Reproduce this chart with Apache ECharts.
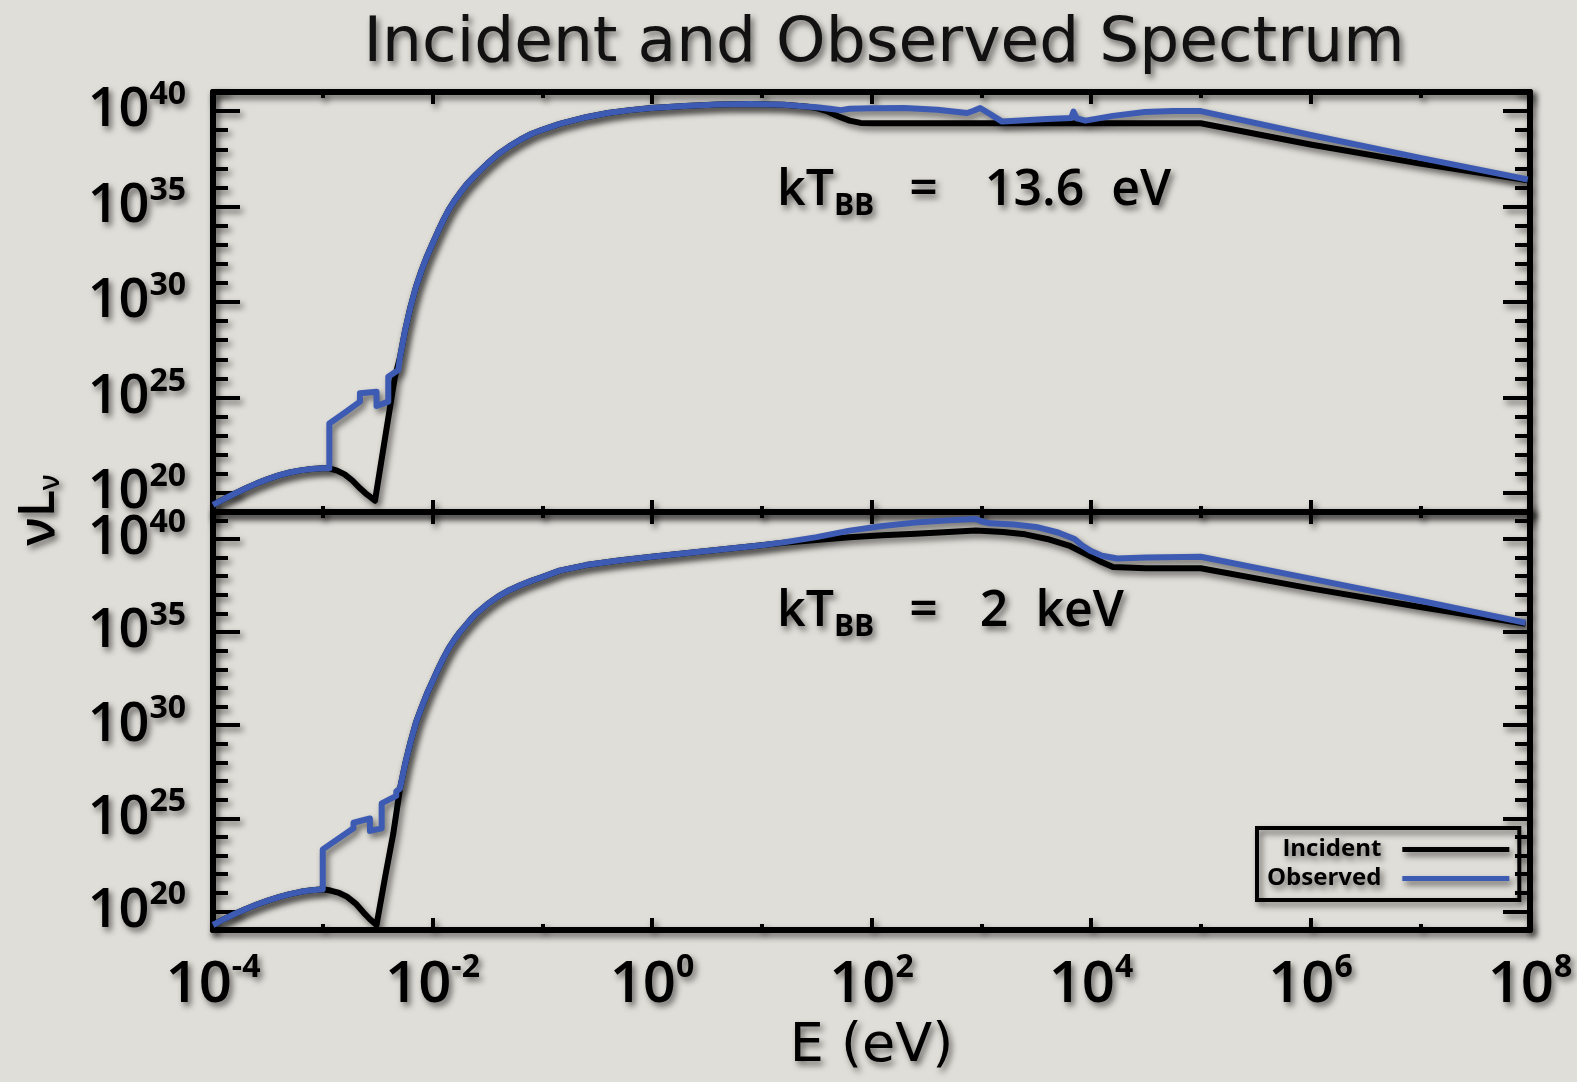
<!DOCTYPE html>
<html>
<head>
<meta charset="utf-8">
<script src="https://cdn.jsdelivr.net/npm/echarts@6/dist/echarts.min.js"></script>
<style>
  html, body { margin: 0; padding: 0; background: #e0ded8; }
  #chart { width: 1577px; height: 1082px; }
</style>
</head>
<body>
<div id="chart"></div>
<script>
// Spectra as [log10(E / eV), log10(nu L_nu)] pairs.

// kT_BB = 13.6 eV
const incident136 = [
  [-4.00,19.37],[-3.90,19.68],[-3.80,19.97],[-3.70,20.24],[-3.60,20.50],[-3.50,20.72],[-3.40,20.92],
  [-3.30,21.07],[-3.20,21.18],[-3.10,21.25],[-3.00,21.29],[-2.94,21.29],[-2.87,21.17],[-2.80,20.97],
  [-2.73,20.65],[-2.66,20.24],[-2.61,19.98],[-2.57,19.80],[-2.524,19.59],[-2.43,22.95],[-2.342,26.09],
  [-2.296,27.10],[-2.25,28.50],[-2.20,29.75],[-2.15,30.80],[-2.10,31.65],[-2.05,32.40],[-2.00,33.05],
  [-1.95,33.70],[-1.90,34.30],[-1.85,34.85],[-1.80,35.30],[-1.75,35.70],[-1.69,36.15],[-1.60,36.70],
  [-1.50,37.25],[-1.40,37.75],[-1.30,38.15],[-1.20,38.50],[-1.10,38.80],[-1.00,39.02],[-0.84,39.33],
  [-0.60,39.68],[-0.40,39.90],[-0.20,40.05],[0.00,40.16],[0.30,40.27],[0.60,40.34],[0.90,40.37],
  [1.20,40.33],[1.40,40.24],[1.50,40.16],[1.60,39.98],[1.70,39.72],[1.80,39.50],[1.90,39.38],
  [2.00,39.36],[3.00,39.36],[4.00,39.36],[5.00,39.36],[6.00,38.25],[7.00,37.25],[7.98,36.38]
];
const observed136 = [
  [-4.00,19.37],[-3.90,19.68],[-3.80,19.97],[-3.70,20.24],[-3.60,20.50],[-3.50,20.72],[-3.40,20.92],
  [-3.30,21.07],[-3.20,21.18],[-3.10,21.25],[-3.00,21.29],[-2.94,21.29],[-2.94,23.64],[-2.80,24.20],
  [-2.661,24.78],[-2.661,25.22],[-2.51,25.30],[-2.51,24.55],[-2.403,24.78],[-2.403,26.09],[-2.312,26.44],
  [-2.296,27.10],[-2.25,28.50],[-2.20,29.75],[-2.15,30.80],[-2.10,31.65],[-2.05,32.40],[-2.00,33.05],
  [-1.95,33.70],[-1.90,34.30],[-1.85,34.85],[-1.80,35.30],[-1.75,35.70],[-1.69,36.15],[-1.60,36.70],
  [-1.50,37.25],[-1.40,37.75],[-1.30,38.15],[-1.20,38.50],[-1.10,38.80],[-1.00,39.02],[-0.84,39.33],
  [-0.60,39.68],[-0.40,39.90],[-0.20,40.05],[0.00,40.16],[0.30,40.27],[0.60,40.34],[0.90,40.37],
  [1.20,40.33],[1.40,40.24],[1.50,40.20],[1.62,40.12],[1.72,40.05],[1.80,40.12],[2.00,40.15],
  [2.30,40.16],[2.60,40.07],[2.87,39.90],[2.93,40.02],[2.99,40.16],[3.08,39.85],[3.19,39.45],
  [3.40,39.52],[3.60,39.58],[3.82,39.64],[3.84,39.97],[3.87,39.62],[3.95,39.50],[4.20,39.75],
  [4.49,39.95],[4.75,40.00],[5.00,40.00],[6.00,38.75],[7.00,37.55],[7.98,36.42]
];

// kT_BB = 2 keV
const incident2k = [
  [-4.00,19.27],[-3.90,19.58],[-3.80,19.87],[-3.70,20.13],[-3.60,20.37],[-3.50,20.58],[-3.40,20.77],
  [-3.30,20.93],[-3.20,21.05],[-3.10,21.14],[-3.00,21.19],[-2.93,21.12],[-2.85,20.99],[-2.78,20.79],
  [-2.70,20.42],[-2.63,19.95],[-2.57,19.58],[-2.51,19.27],[-2.43,21.90],[-2.357,24.19],[-2.296,26.60],
  [-2.25,27.90],[-2.20,29.10],[-2.15,30.15],[-2.10,30.95],[-2.05,31.70],[-2.00,32.35],[-1.95,33.00],
  [-1.90,33.60],[-1.85,34.15],[-1.80,34.60],[-1.75,35.00],[-1.70,35.35],[-1.65,35.70],[-1.60,36.00],
  [-1.50,36.50],[-1.40,36.92],[-1.30,37.25],[-1.20,37.52],[-1.10,37.75],[-1.00,37.95],[-0.84,38.30],
  [-0.60,38.60],[-0.30,38.85],[0.00,39.05],[0.50,39.35],[1.00,39.66],[1.20,39.80],[1.50,39.95],
  [1.80,40.10],[2.10,40.20],[2.40,40.28],[2.70,40.38],[2.95,40.45],[3.20,40.38],[3.40,40.25],
  [3.60,40.00],[3.80,39.65],[3.95,39.20],[4.10,38.75],[4.20,38.50],[4.50,38.43],[5.00,38.43],
  [6.00,37.35],[7.00,36.35],[7.96,35.45]
];
const observed2k = [
  [-4.00,19.27],[-3.90,19.58],[-3.80,19.87],[-3.70,20.13],[-3.60,20.37],[-3.50,20.58],[-3.40,20.77],
  [-3.30,20.93],[-3.20,21.05],[-3.10,21.14],[-3.00,21.19],[-3.00,23.33],[-2.72,24.46],[-2.72,24.76],
  [-2.57,24.99],[-2.57,24.32],[-2.463,24.46],[-2.463,25.80],[-2.33,26.20],[-2.33,26.45],[-2.296,26.60],
  [-2.25,27.90],[-2.20,29.10],[-2.15,30.15],[-2.10,30.95],[-2.05,31.70],[-2.00,32.35],[-1.95,33.00],
  [-1.90,33.60],[-1.85,34.15],[-1.80,34.60],[-1.75,35.00],[-1.70,35.35],[-1.65,35.70],[-1.60,36.00],
  [-1.50,36.50],[-1.40,36.92],[-1.30,37.25],[-1.20,37.52],[-1.10,37.75],[-1.00,37.95],[-0.84,38.30],
  [-0.60,38.60],[-0.30,38.85],[0.00,39.05],[0.50,39.35],[1.00,39.66],[1.20,39.82],[1.50,40.10],
  [1.80,40.45],[2.10,40.70],[2.40,40.88],[2.70,41.00],[2.95,41.08],[3.00,40.95],[3.08,40.84],
  [3.30,40.78],[3.50,40.65],[3.70,40.35],[3.85,40.00],[3.92,39.65],[4.00,39.35],[4.10,39.10],
  [4.24,38.95],[4.50,39.00],[5.00,39.05],[6.00,37.87],[7.00,36.68],[7.96,35.50]
];

// Axis ranges (log10), labelled decades and minor decades
const xRange = [-4, 8];
const xLabelStep = 2;
const yRangeTop = [19, 41];
const yRangeBottom = [19, 41.45];
const yLabelDecades = [20, 25, 30, 35, 40];
const yMinorDecades = [21, 22, 23, 24, 26, 27, 28, 29, 31, 32, 33, 34, 36, 37, 38, 39, 41];

const FONT = "'Open Sans', 'DejaVu Sans', sans-serif";
const WIDE_FONT = "'DejaVu Sans', 'Open Sans', sans-serif";
const INK = '#000';
const BLUE = '#3d5bb3';
const SHADOW = { shadowColor: 'rgba(0,0,0,0.55)', shadowBlur: 6, shadowOffsetX: 3, shadowOffsetY: 4 };
const TEXT_SHADOW = {
  textShadowColor: 'rgba(0,0,0,0.55)', textShadowBlur: 6, textShadowOffsetX: 3, textShadowOffsetY: 4
};

const powerLabel = (v) => '{b|10}{s|' + Math.round(v) + '}';

function xAxesFor(grid, withLabels) {
  const common = {
    type: 'value', gridIndex: grid, min: xRange[0], max: xRange[1], interval: xLabelStep,
    axisLine: { show: true, onZero: false, lineStyle: Object.assign({ color: INK, width: 6 }, SHADOW) },
    axisTick: { show: true, inside: true, length: 12, lineStyle: Object.assign({ color: INK, width: 4 }, SHADOW) },
    minorTick: { show: true, splitNumber: 2, length: 6, lineStyle: Object.assign({ color: INK, width: 4 }, SHADOW) },
    splitLine: { show: false }, minorSplitLine: { show: false }
  };
  const bottom = Object.assign({}, common, {
    position: 'bottom',
    axisLabel: withLabels ? Object.assign({
      show: true, margin: 22, formatter: powerLabel, color: INK, fontFamily: FONT,
      rich: {
        b: { fontSize: 58, fontWeight: 600, lineHeight: 66, fontFamily: FONT, color: INK },
        s: { fontSize: 32, fontWeight: 'bold', lineHeight: 34, verticalAlign: 'top', fontFamily: FONT, color: INK }
      }
    }, TEXT_SHADOW) : { show: false },
    name: withLabels ? 'E (eV)' : '', nameLocation: 'middle', nameGap: 90,
    nameTextStyle: Object.assign({ fontSize: 54, fontFamily: WIDE_FONT, color: INK, verticalAlign: 'top' }, TEXT_SHADOW)
  });
  const top = Object.assign({}, common, { position: 'top', axisLabel: { show: false } });
  return [bottom, top];
}

function yAxesFor(grid, range, withLabels) {
  const tickStyle = Object.assign({ color: INK, width: 4 }, SHADOW);
  const minor = (pos) => ({
    type: 'value', gridIndex: grid, position: pos, min: range[0], max: range[1], interval: 1,
    axisLine: { show: true, onZero: false, lineStyle: Object.assign({ color: INK, width: 6 }, SHADOW) },
    axisTick: { show: true, inside: true, length: 15, customValues: yMinorDecades, lineStyle: tickStyle },
    axisLabel: { show: false }, splitLine: { show: false }
  });
  const major = (pos, labels) => ({
    type: 'value', gridIndex: grid, position: pos, min: range[0], max: range[1], interval: 1,
    axisLine: { show: false, onZero: false },
    axisTick: { show: true, inside: true, length: 27, customValues: yLabelDecades, lineStyle: tickStyle },
    axisLabel: labels ? Object.assign({
      show: true, customValues: yLabelDecades, margin: 27, formatter: powerLabel, color: INK,
      rich: {
        b: { fontSize: 54, fontWeight: 600, lineHeight: 64, fontFamily: FONT, color: INK },
        s: { fontSize: 32, fontWeight: 'bold', lineHeight: 22, verticalAlign: 'top', fontFamily: FONT, color: INK }
      }
    }, TEXT_SHADOW) : { show: false },
    splitLine: { show: false }
  });
  return [minor('left'), major('left', withLabels), minor('right'), major('right', false)];
}

function lineSeries(name, data, color, xi, yi, z) {
  return {
    type: 'line', name: name, data: data, xAxisIndex: xi, yAxisIndex: yi, z: z,
    showSymbol: false, symbol: 'none', smooth: false, silent: true,
    lineStyle: Object.assign({ color: color, width: 6, join: 'round' }, SHADOW),
    itemStyle: { color: color }
  };
}

function annotation(x, y, tokens) {
  const big = { fontSize: 50, fontWeight: 600, lineHeight: 60, fontFamily: FONT, fill: INK, color: INK };
  const gap = (px) => Object.assign({}, big, { padding: [0, 0, 0, px] });
  return {
    type: 'text', x: x, y: y, z: 50,
    style: Object.assign({
      text: tokens, align: 'left', verticalAlign: 'middle', fill: INK, fontFamily: FONT,
      rich: {
        m: big,
        sub: { fontSize: 30, fontWeight: 'bold', lineHeight: 24, verticalAlign: 'bottom', fontFamily: FONT, fill: INK, color: INK },
        eq: gap(35), v1: gap(47), v2: gap(42), u: gap(27)
      }
    }, TEXT_SHADOW, SHADOW)
  };
}

const chart = echarts.init(document.getElementById('chart'), null, { renderer: 'canvas' });

const option = {
  backgroundColor: '#e0ded8',
  animation: false,
  grid: [
    { left: 213, top: 92, width: 1317, height: 420, containLabel: false, outerBoundsMode: 'none' },
    { left: 213, top: 512, width: 1317, height: 418, containLabel: false, outerBoundsMode: 'none' }
  ],
  xAxis: [].concat(xAxesFor(0, false), xAxesFor(1, true)),
  yAxis: [].concat(yAxesFor(0, yRangeTop, true), yAxesFor(1, yRangeBottom, true)),
  legend: {
    left: 1257, top: 828, orient: 'vertical', align: 'right',
    data: ['Incident', 'Observed'], icon: 'rect', itemWidth: 107, itemHeight: 5, itemGap: 0,
    selectedMode: false,
    padding: [7, 10, 7, 10], borderColor: INK, borderWidth: 4,
    shadowColor: 'rgba(0,0,0,0.55)', shadowBlur: 6, shadowOffsetX: 3, shadowOffsetY: 4,
    itemStyle: SHADOW,
    textStyle: Object.assign({
      fontSize: 24, fontWeight: 'bold', fontFamily: FONT, color: INK, lineHeight: 29, padding: [0, 16, 0, 0]
    }, TEXT_SHADOW)
  },
  graphic: [
    {
      type: 'text', x: 884, y: 45, z: 50,
      style: Object.assign({
        text: 'Incident and Observed Spectrum', fontFamily: WIDE_FONT, fontSize: 63,
        fill: '#111', align: 'center', verticalAlign: 'middle'
      }, TEXT_SHADOW, SHADOW)
    },
    annotation(777, 191, '{m|kT}{sub|BB}{eq|=}{v1|13.6}{u|eV}'),
    annotation(777, 612, '{m|kT}{sub|BB}{eq|=}{v2|2}{u|keV}'),
    {
      type: 'text', x: 40, y: 510, rotation: Math.PI / 2, z: 50,
      style: Object.assign({
        text: '{m|\u03bdL}{sub|\u03bd}', align: 'center', verticalAlign: 'middle', fill: INK,
        rich: {
          m: { fontSize: 50, fontWeight: 600, lineHeight: 50, fontFamily: FONT, fill: INK, color: INK },
          sub: { fontSize: 28, fontWeight: 600, lineHeight: 14, verticalAlign: 'bottom', fontFamily: FONT, fill: INK, color: INK }
        }
      }, TEXT_SHADOW, SHADOW)
    }
  ],
  series: [
    lineSeries('Incident', incident136, INK, 0, 0, 3),
    lineSeries('Observed', observed136, BLUE, 0, 0, 4),
    lineSeries('Incident', incident2k, INK, 2, 4, 3),
    lineSeries('Observed', observed2k, BLUE, 2, 4, 4)
  ]
};

chart.setOption(option);
</script>
</body>
</html>
